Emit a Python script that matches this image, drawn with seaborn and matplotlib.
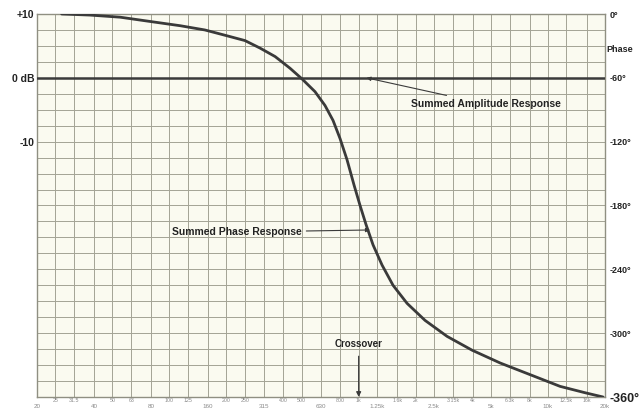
import numpy as np
import pandas as pd
import matplotlib
matplotlib.use("Agg")
import matplotlib.pyplot as plt
import seaborn as sns

# ---- data ----
phase_freq = [27, 38, 55, 79, 114, 154, 197, 251, 301, 362, 434, 502, 588, 664,
              732, 797, 868, 946, 1017, 1094, 1191, 1329, 1519, 1802, 2242, 2930,
              3972, 5584, 8044, 11580, 15700, 19540]
phase_deg = [0, -1, -3, -7, -11, -15, -20, -25, -32, -40, -51, -61, -73, -86,
             -100, -117, -137, -161, -180, -198, -217, -236, -255, -272, -288, -303,
             -316, -328, -339, -350, -356, -360]

amp_freq = [20, 100, 1000, 10000, 20000]
amp_db = [0, 0, 0, 0, 0]

lower_ticks = [20, 40, 80, 160, 315, 630, 1250, 2500, 5000, 10000, 20000]
lower_labels = ["20", "40", "80", "160", "315", "630", "1.25k", "2.5k", "5k", "10k", "20k"]
upper_ticks = [25, 31.5, 50, 63, 100, 125, 200, 250, 400, 500, 800, 1000,
               1600, 2000, 3150, 4000, 6300, 8000, 12500, 16000]
upper_labels = ["25", "31.5", "50", "63", "100", "125", "200", "250", "400", "500",
                "800", "1k", "1.6k", "2k", "3.15k", "4k", "6.3k", "8k", "12.5k", "16k"]

db_ticks = [10, 0, -10]
db_labels = ["+10", "0 dB", "-10"]
phase_ticks = [0, -60, -120, -180, -240, -300, -360]
phase_labels = ["0°", "-60°", "-120°", "-180°", "-240°", "-300°", "-360°"]

sns.set_theme(style="white")
plt.rcParams["font.family"] = ["Liberation Sans", "DejaVu Sans"]

fig = plt.figure(figsize=(6.43, 4.11), dpi=100)
fig.patch.set_facecolor("white")
ax = fig.add_axes([37 / 643, 1 - 397 / 411, (605 - 37) / 643, (397 - 14) / 411])
ax.set_facecolor("#fafaf0")

grid_col = "#a3a395"
ink = "#3a3a3a"

amp_df = pd.DataFrame({"freq": amp_freq, "db": amp_db})
sns.lineplot(data=amp_df, x="freq", y="db", ax=ax, color=ink, lw=1.8, zorder=3)
ax.set_xscale("log")
ax.set_xlim(20, 20000)
ax.set_ylim(-50, 10)
ax.set_xlabel("")
ax.set_ylabel("")

# phase axis
ax2 = ax.twinx()
ph_df = pd.DataFrame({"freq": phase_freq, "phase": phase_deg})
sns.lineplot(data=ph_df, x="freq", y="phase", ax=ax2, color=ink, lw=2.0, zorder=4,
             solid_joinstyle="round", solid_capstyle="round")
ax2.set_ylim(-360, 0)
ax2.set_ylabel("")
ax2.set_xlabel("")
ax2.set_yticks(phase_ticks, labels=phase_labels)
ax2.tick_params(axis="y", length=0, pad=3)
for t in ax2.get_yticklabels():
    t.set_fontweight("bold")
    t.set_fontsize(6.5)
    t.set_color("#222222")
ax2.get_yticklabels()[-1].set_fontsize(9)
ax2.grid(False)
for s in ax2.spines.values():
    s.set_visible(False)

# x ticks: two rows of labels (set after twin so nothing resets them)
ax.set_xlim(20, 20000)
ax.set_xticks(lower_ticks, labels=lower_labels)
ax.set_xticks(upper_ticks, labels=upper_labels, minor=True)
ax.tick_params(axis="x", which="major", length=0, pad=5, labelsize=4.5, labelcolor="#8a8a8a")
ax.tick_params(axis="x", which="minor", length=0, pad=0.5, labelsize=3.8, labelcolor="#8a8a8a")

# y ticks (dB)
ax.set_yticks(db_ticks, labels=db_labels)
ax.set_yticks([v for v in np.arange(-50, 10.01, 2.5) if v not in db_ticks], minor=True)
ax.tick_params(axis="y", which="both", length=0, pad=2)
for t in ax.get_yticklabels():
    t.set_fontweight("bold")
    t.set_fontsize(7.5)
    t.set_color("#222222")

ax.grid(True, which="both", color=grid_col, lw=0.7)
ax.set_axisbelow(True)
for s in ax.spines.values():
    s.set_color("#8f8f82")
    s.set_linewidth(1.0)

ax2.text(1.003, -33, "Phase", transform=ax2.get_yaxis_transform(), ha="left", va="center",
         fontsize=6.5, fontweight="bold", color="#222222")

# annotations
ax.annotate("Summed Amplitude Response", xy=(1100, 0), xytext=(1880, -4.1),
            ha="left", va="center", fontsize=7.5, fontweight="bold", color="#222222",
            arrowprops=dict(arrowstyle="-|>", color=ink, lw=0.8, mutation_scale=6,
                            shrinkA=1, shrinkB=0))
ax2.annotate("Summed Phase Response", xy=(1148, -203), xytext=(500, -205),
             ha="right", va="center", fontsize=7.5, fontweight="bold", color="#222222",
             arrowprops=dict(arrowstyle="-|>", color=ink, lw=0.8, mutation_scale=6,
                             shrinkA=1, shrinkB=0))
ax2.annotate("Crossover", xy=(1000, -360), xytext=(1000, -310),
             ha="center", va="center", fontsize=7, fontweight="bold", color="#222222",
             arrowprops=dict(arrowstyle="-|>", color=ink, lw=0.9, mutation_scale=7,
                             shrinkA=3, shrinkB=0))

fig.savefig("out.png", dpi=100, facecolor="white")
